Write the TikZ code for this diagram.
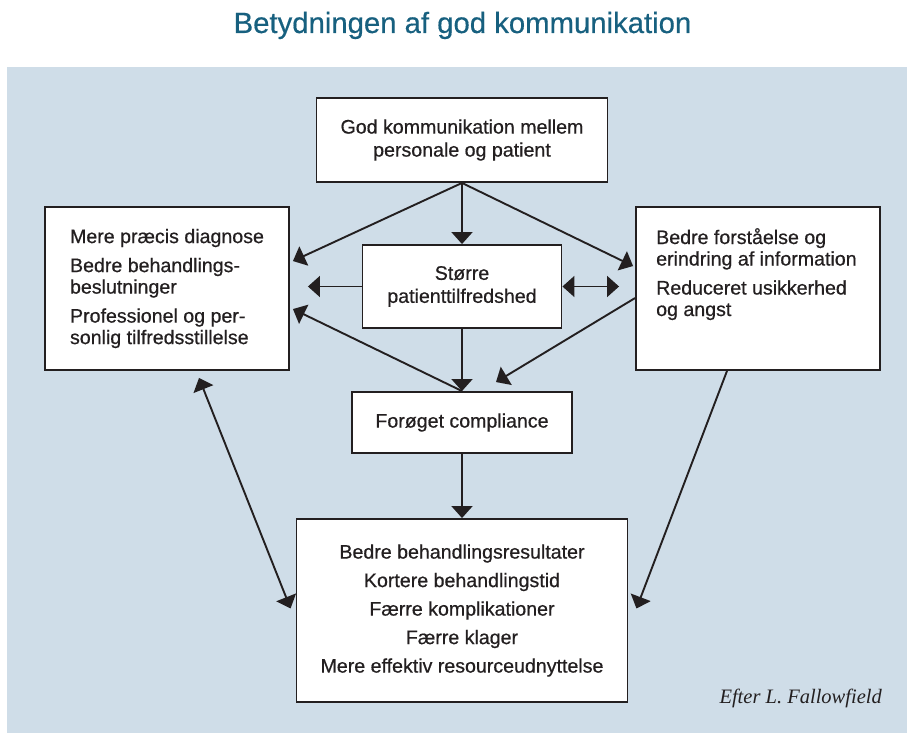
\documentclass[tikz,border=0pt]{standalone}
\usepackage{fontspec}
\setmainfont{Liberation Sans}[FakeBold=0.6]
\newfontfamily\titlefont{Liberation Sans}[FakeBold=0.4]
\newfontfamily\creditfont{Liberation Serif}
\usetikzlibrary{arrows.meta,calc}
\definecolor{panel}{HTML}{CFDDE8}
\definecolor{titlec}{HTML}{17607F}
\definecolor{ink}{HTML}{231F20}
\begin{document}
\begin{tikzpicture}[x=1pt,y=-1pt,
  box/.style={draw=ink,line width=1.9pt,fill=white,inner sep=0pt,align=center,text=ink,font=\fontsize{19.6pt}{23pt}\selectfont},
  conn/.style={draw=ink,line width=1.9pt,-{Triangle[length=12pt,width=21pt]}},
  dconn/.style={draw=ink,line width=1.9pt,{Triangle[length=12pt,width=21pt]}-{Triangle[length=12pt,width=21pt]}},
  lst/.style={align=left,inner sep=0pt,text=ink,font=\fontsize{19.6pt}{21.5pt}\selectfont}
]
\useasboundingbox (0,0) rectangle (907,733);
\fill[white] (0,0) rectangle (907,733);
\fill[panel] (7,67) rectangle (907,733);

\node (title) [anchor=base,text=titlec,inner sep=0pt,font=\titlefont\fontsize{29.3pt}{34pt}\selectfont] at (462.5,33) {Betydningen af god kommunikation};

\node (top) [box,minimum width=291pt,minimum height=84pt] at (462,140) {God kommunikation mellem\\personale og patient};

\node (left) [box,minimum width=244pt,minimum height=163pt,align=left,font=\fontsize{19.6pt}{21.5pt}\selectfont] at (167,288.5)
  {Mere præcis diagnose\\[7.5pt]Bedre behandlings-\\beslutninger\\[7.5pt]Professionel og per-\\sonlig tilfredsstillelse};

\node (right) [box,minimum width=244pt,minimum height=163pt] at (758,288.5) {};
\node (rtext) [lst,anchor=north west] at (656,228)
  {Bedre forståelse og\\erindring af information\\[7.5pt]Reduceret usikkerhed\\og angst};

\node (mid) [box,minimum width=199pt,minimum height=83pt] at (462,286.5) {Større\\patienttilfredshed};

\node (comp) [box,minimum width=220pt,minimum height=61pt] at (462,422.5) {Forøget compliance};

\node (bottom) [box,minimum width=331pt,minimum height=183pt,font=\fontsize{19.6pt}{28.5pt}\selectfont] at (462,610.5)
  {Bedre behandlingsresultater\\Kortere behandlingstid\\Færre komplikationer\\Færre klager\\Mere effektiv resourceudnyttelse};

\node (credit) [anchor=base east,inner sep=0pt,text=ink,font=\creditfont\itshape\fontsize{20.5pt}{24pt}\selectfont] at (882,703) {Efter L. Fallowfield};

\draw[conn] (top.south) -- (mid.north);
\draw[conn] (top.south) -- ($(left.north east)+(3,55)$);
\draw[conn] (top.south) -- ($(right.north west)+(-2,60)$);
\draw[conn] (mid.west) -- ($(left.east|-mid.west)+(18,0)$);
\draw[dconn] (mid.east) -- ($(right.west|-mid.east)+(-16,0)$);
\draw[conn] (mid.south) -- (comp.north);
\draw[conn] (comp.north) -- ($(left.north east)+(3,103)$);
\draw[conn] ($(right.north west)+(0,92)$) -- ($(comp.north)+(34,-9)$);
\draw[conn] (comp.south) -- (bottom.north);
\draw[dconn] ($(left.south)+(32,7)$) -- ($(bottom.west)+(-5,-2)$);
\draw[conn] ($(right.south)+(-31,0)$) -- ($(bottom.east)+(8,-2)$);
\end{tikzpicture}
\end{document}
